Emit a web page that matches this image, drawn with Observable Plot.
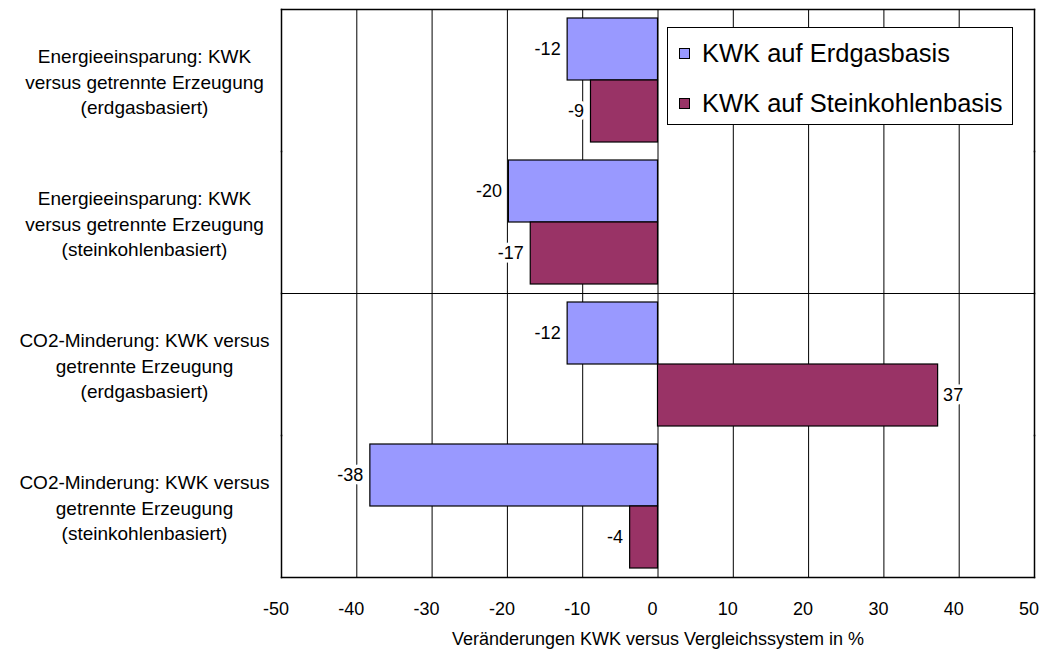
<!DOCTYPE html>
<html>
<head>
<meta charset="utf-8">
<script src="https://cdn.jsdelivr.net/npm/d3@7"></script>
<script src="https://cdn.jsdelivr.net/npm/@observablehq/plot@0.6"></script>
<style>
  body { margin: 0; background: #fff; font-family: "Liberation Sans", Arial, sans-serif; }
  #wrap { position: relative; width: 1042px; height: 651px; }
  #legend { position: absolute; left: 667px; top: 27px; width: 346px; height: 98px;
            border: 1px solid #000; background: #fff; box-sizing: border-box; }
  .item { position: absolute; left: 11px; height: 30px; display: flex; align-items: center;
          font-size: 25.5px; color: #000; white-space: nowrap; }
  .sw { width: 11px; height: 11px; border: 1px solid #000; box-sizing: border-box; margin-right: 12px; }
</style>
</head>
<body>
<div id="wrap"></div>
<script>
const categories = [
  "Energieeinsparung: KWK\nversus getrennte Erzeugung\n(erdgasbasiert)",
  "Energieeinsparung: KWK\nversus getrennte Erzeugung\n(steinkohlenbasiert)",
  "CO2-Minderung: KWK versus\ngetrennte Erzeugung\n(erdgasbasiert)",
  "CO2-Minderung: KWK versus\ngetrennte Erzeugung\n(steinkohlenbasiert)"
];
const seriesNames = ["KWK auf Erdgasbasis", "KWK auf Steinkohlenbasis"];
const erdgasValues = [-12.0, -19.8, -12.0, -38.2];
const steinkohleValues = [-8.9, -16.9, 37.2, -3.7];
const xTicks = [-50, -40, -30, -20, -10, 0, 10, 20, 30, 40, 50];
const gridTicks = [-40, -30, -20, -10, 0, 10, 20, 30, 40];
const seriesColors = ["#9999FF", "#993366"];
const xLabel = "Veränderungen KWK versus Vergleichssystem in %";

const rows = categories.flatMap((c, i) => [
  {category: c, series: seriesNames[0], value: erdgasValues[i]},
  {category: c, series: seriesNames[1], value: steinkohleValues[i]}
]);

const chart = Plot.plot({
  width: 1042,
  height: 651,
  marginLeft: 281,
  marginRight: 8,
  marginTop: 9,
  marginBottom: 74,
  style: {fontFamily: "Liberation Sans, Arial, sans-serif", fontSize: "18px", color: "#000", background: "#fff"},
  x: {domain: [-50, 50], axis: null},
  y: {domain: seriesNames, paddingInner: 0, paddingOuter: 0.145, axis: null},
  fy: {domain: categories, padding: 0, axis: null},
  color: {domain: seriesNames, range: seriesColors},
  marks: [
    Plot.axisX(xTicks, {anchor: "bottom", tickSize: 0, tickPadding: 25, dx: -5.5,
      tickFormat: d => String(d), fontSize: 18,
      label: xLabel, labelAnchor: "center", labelOffset: 67, labelArrow: "none"}),
    Plot.ruleX(gridTicks, {stroke: "#000", strokeWidth: 1}),
    Plot.frame({anchor: "top", fy: categories[2], stroke: "#000", strokeWidth: 1}),
    Plot.frame({anchor: "top", fy: categories[0], stroke: "#000", strokeWidth: 1.5}),
    Plot.frame({anchor: "bottom", fy: categories[3], stroke: "#000", strokeWidth: 1.5}),
    Plot.frame({anchor: "left", stroke: "#000", strokeWidth: 1.5}),
    Plot.frame({anchor: "right", stroke: "#000", strokeWidth: 1.5}),
    Plot.barX(rows, {x: "value", y: "series", fy: "category", fill: "series", stroke: "#000", strokeWidth: 1.2}),
    Plot.text(rows, {filter: d => d.value < 0, x: "value", y: "series", fy: "category",
      text: d => String(Math.round(d.value)), textAnchor: "end", dx: -7,
      fill: "#000", stroke: "#fff", strokeWidth: 7, fontSize: 18}),
    Plot.text(rows, {filter: d => d.value >= 0, x: "value", y: "series", fy: "category",
      text: d => String(Math.round(d.value)), textAnchor: "start", dx: 5,
      fill: "#000", stroke: "#fff", strokeWidth: 7, fontSize: 18}),
    Plot.text(categories, {fy: d => d, text: d => d, frameAnchor: "left", dx: -137,
      textAnchor: "middle", lineHeight: 1.32, fontSize: 19, fill: "#000"})
  ]
});

const wrap = document.getElementById("wrap");
wrap.appendChild(chart);

const legend = document.createElement("div");
legend.id = "legend";
seriesNames.forEach((name, i) => {
  const item = document.createElement("div");
  item.className = "item";
  item.style.top = (i === 0 ? 10 : 60) + "px";
  const sw = document.createElement("span");
  sw.className = "sw";
  sw.style.background = seriesColors[i];
  const t = document.createElement("span");
  t.textContent = name;
  item.appendChild(sw);
  item.appendChild(t);
  legend.appendChild(item);
});
wrap.appendChild(legend);
</script>
</body>
</html>
